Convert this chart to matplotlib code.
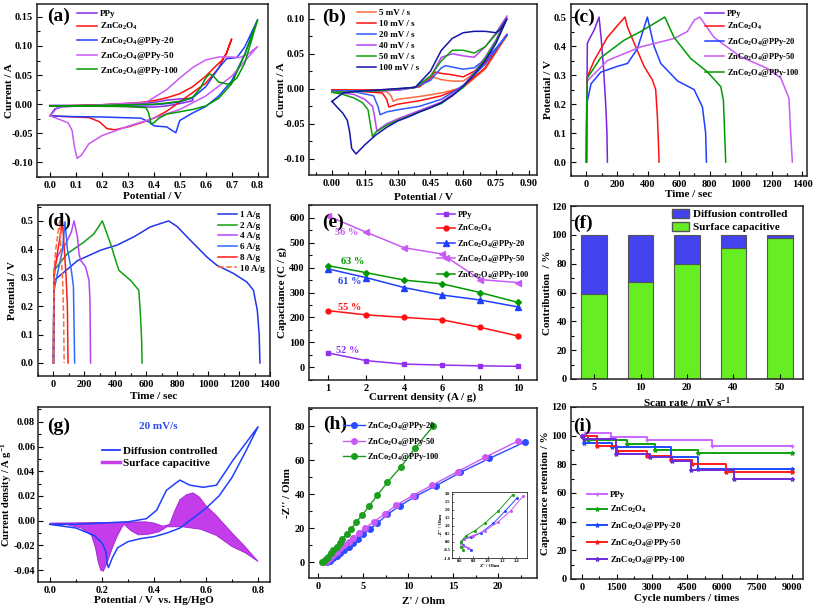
import matplotlib
matplotlib.use("Agg")
import matplotlib.pyplot as plt
from matplotlib.ticker import AutoMinorLocator, FormatStrFormatter
from matplotlib.patches import Patch

plt.rcParams['font.family'] = 'serif'
plt.rcParams['font.serif'] = ['Liberation Serif', 'DejaVu Serif']
plt.rcParams['font.weight'] = 'bold'
plt.rcParams['axes.labelweight'] = 'bold'
plt.rcParams['mathtext.fontset'] = 'custom'
plt.rcParams['mathtext.rm'] = 'Liberation Serif:bold'
plt.rcParams['mathtext.it'] = 'Liberation Serif:bold'
plt.rcParams['mathtext.bf'] = 'Liberation Serif:bold'
plt.rcParams['mathtext.default'] = 'rm'

ZCO = 'ZnCo$_2$O$_4$'
names = ['PPy', ZCO, ZCO + '@PPy-20', ZCO + '@PPy-50', ZCO + '@PPy-100']

# ---------------- (a) CV of the five electrodes ----------------
a_ppy_v = [0.0, 0.1, 0.2, 0.3, 0.35, 0.4, 0.45, 0.5, 0.55, 0.55, 0.5, 0.45, 0.4, 0.3, 0.2, 0.1, 0.0]
a_ppy_i = [-0.002, -0.002, -0.001, 0.0, 0.001, 0.003, 0.007, 0.009, 0.010,
           0.006, 0.001, -0.003, -0.005, -0.004, -0.003, -0.003, -0.003]
a_zco_v = [0.0, 0.02, 0.05, 0.2, 0.35, 0.4, 0.45, 0.5, 0.55, 0.6, 0.64, 0.66, 0.68, 0.70,
           0.68, 0.65, 0.6, 0.55, 0.5, 0.45, 0.4, 0.35, 0.3, 0.25, 0.22, 0.19, 0.15, 0.05, 0.0]
a_zco_i = [-0.02, -0.008, -0.003, -0.001, 0.003, 0.006, 0.011, 0.018, 0.03, 0.048, 0.066, 0.074, 0.087, 0.112,
           0.088, 0.062, 0.036, 0.02, 0.004, -0.012, -0.024, -0.032, -0.039, -0.044, -0.042, -0.03, -0.023, -0.021, -0.02]
a_p20_v = [0.0, 0.02, 0.05, 0.2, 0.4, 0.45, 0.5, 0.55, 0.6, 0.65, 0.68, 0.72, 0.75, 0.8,
           0.75, 0.7, 0.65, 0.6, 0.55, 0.5, 0.485, 0.47, 0.45, 0.42, 0.4, 0.38, 0.35, 0.2, 0.05, 0.0]
a_p20_i = [-0.02, -0.008, -0.004, -0.002, -0.001, 0.001, 0.004, 0.011, 0.03, 0.062, 0.078, 0.08, 0.098, 0.145,
           0.085, 0.04, 0.014, -0.004, -0.015, -0.028, -0.049, -0.045, -0.039, -0.038, -0.037, -0.03, -0.024, -0.022, -0.021, -0.02]
a_p50_v = [0.0, 0.03, 0.2, 0.37, 0.45, 0.5, 0.55, 0.6, 0.65, 0.7, 0.73, 0.76, 0.8,
           0.7, 0.6, 0.5, 0.4, 0.3, 0.2, 0.15, 0.12, 0.105, 0.095, 0.085, 0.07, 0.03, 0.0]
a_p50_i = [-0.02, -0.005, -0.001, 0.003, 0.025, 0.045, 0.063, 0.076, 0.081, 0.081, 0.08, 0.085, 0.099,
           0.048, 0.014, -0.009, -0.024, -0.038, -0.054, -0.068, -0.088, -0.093, -0.075, -0.045, -0.032, -0.025, -0.02]
a_p100_v = [0.0, 0.2, 0.4, 0.45, 0.5, 0.55, 0.58, 0.6, 0.615, 0.63, 0.65, 0.69, 0.72, 0.75, 0.8,
            0.75, 0.7, 0.65, 0.6, 0.55, 0.5, 0.45, 0.42, 0.40, 0.39, 0.38, 0.37, 0.3, 0.0]
a_p100_i = [-0.003, -0.002, 0.0, 0.002, 0.005, 0.012, 0.028, 0.045, 0.052, 0.048, 0.038, 0.034, 0.045, 0.07, 0.145,
            0.085, 0.035, 0.01, -0.003, -0.009, -0.013, -0.017, -0.024, -0.032, -0.034, -0.015, -0.006, -0.004, -0.003]

# ---------------- (b) CV at different scan rates ----------------
b_labels = ['5 mV / s', '10 mV / s', '20 mV / s', '40 mV / s', '50 mV / s', '100 mV / s']
b5_v = [0.0, 0.1, 0.3, 0.4, 0.42, 0.44, 0.45, 0.5, 0.55, 0.6, 0.65, 0.7, 0.75, 0.8,
        0.7, 0.6, 0.5, 0.4, 0.3, 0.28, 0.27, 0.25, 0.1, 0.0]
b5_i = [-0.002, -0.002, -0.001, 0.003, 0.01, 0.016, 0.018, 0.013, 0.011, 0.011, 0.022, 0.036, 0.055, 0.076,
        0.028, 0.002, -0.006, -0.011, -0.015, -0.018, -0.01, -0.004, -0.002, -0.002]
b10_v = [0.0, 0.1, 0.3, 0.4, 0.45, 0.47, 0.5, 0.55, 0.6, 0.65, 0.7, 0.75, 0.8,
         0.7, 0.6, 0.5, 0.4, 0.3, 0.26, 0.25, 0.23, 0.1, 0.0]
b10_i = [-0.002, -0.002, -0.001, 0.003, 0.015, 0.024, 0.022, 0.02, 0.017, 0.025, 0.038, 0.056, 0.078,
         0.03, 0.003, -0.01, -0.017, -0.022, -0.026, -0.015, -0.006, -0.003, -0.002]
b20_v = [0.0, 0.1, 0.3, 0.38, 0.45, 0.5, 0.52, 0.55, 0.6, 0.65, 0.7, 0.75, 0.8,
         0.7, 0.6, 0.5, 0.4, 0.3, 0.25, 0.22, 0.21, 0.19, 0.1, 0.0]
b20_i = [-0.003, -0.003, -0.002, 0.002, 0.012, 0.03, 0.033, 0.031, 0.028, 0.03, 0.042, 0.058, 0.077,
         0.035, 0.005, -0.015, -0.025, -0.03, -0.033, -0.037, -0.025, -0.01, -0.004, -0.003]
b40_v = [0.0, 0.1, 0.3, 0.38, 0.45, 0.5, 0.55, 0.6, 0.65, 0.7, 0.75, 0.8,
         0.75, 0.7, 0.65, 0.6, 0.5, 0.4, 0.3, 0.25, 0.205, 0.195, 0.185, 0.15, 0.1, 0.0]
b40_i = [-0.004, -0.004, -0.002, 0.002, 0.017, 0.045, 0.05, 0.047, 0.045, 0.06, 0.08, 0.104,
         0.07, 0.045, 0.024, 0.004, -0.019, -0.031, -0.043, -0.05, -0.06, -0.04, -0.025, -0.015, -0.008, -0.004]
b50_v = [0.0, 0.2, 0.38, 0.45, 0.5, 0.55, 0.6, 0.65, 0.7, 0.75, 0.8,
         0.75, 0.7, 0.65, 0.6, 0.5, 0.4, 0.3, 0.25, 0.2, 0.185, 0.175, 0.165, 0.14, 0.1, 0.05, 0.0]
b50_i = [-0.005, -0.003, 0.002, 0.018, 0.04, 0.055, 0.055, 0.051, 0.06, 0.078, 0.1,
         0.068, 0.043, 0.022, 0.002, -0.021, -0.033, -0.045, -0.052, -0.062, -0.068, -0.05, -0.03, -0.02, -0.013, -0.008, -0.005]
b100_v = [0.0, 0.05, 0.1, 0.38, 0.45, 0.5, 0.55, 0.6, 0.65, 0.7, 0.75, 0.77, 0.8,
          0.75, 0.7, 0.65, 0.6, 0.55, 0.5, 0.45, 0.4, 0.35, 0.3, 0.25, 0.2, 0.15, 0.11, 0.09, 0.08, 0.07, 0.05, 0.02, 0.0]
b100_i = [-0.018, -0.006, -0.004, 0.002, 0.025, 0.055, 0.072, 0.08, 0.082, 0.082, 0.08, 0.085, 0.1,
          0.065, 0.04, 0.02, 0.004, -0.01, -0.02, -0.027, -0.033, -0.04, -0.046, -0.055, -0.066, -0.08, -0.093, -0.085,
          -0.06, -0.045, -0.035, -0.025, -0.018]

# ---------------- (c) GCD of the five electrodes ----------------
c_ppy_t = [0, 3, 6, 20, 50, 82, 95, 110, 125, 133, 136]
c_ppy_v = [0.0, 0.2, 0.41, 0.425, 0.455, 0.5, 0.43, 0.33, 0.2, 0.1, 0.0]
c_zco_t = [0, 2, 6, 50, 136, 200, 250, 266, 320, 374, 428, 449, 460, 466, 471]
c_zco_v = [0.0, 0.2, 0.294, 0.35, 0.43, 0.47, 0.5, 0.466, 0.397, 0.33, 0.283, 0.25, 0.157, 0.08, 0.0]
c_p20_t = [0, 2, 6, 30, 93, 200, 266, 330, 395, 438, 482, 590, 698, 752, 773, 778]
c_p20_v = [0.0, 0.15, 0.21, 0.27, 0.31, 0.33, 0.34, 0.39, 0.5, 0.4, 0.34, 0.28, 0.25, 0.19, 0.1, 0.0]
c_p50_t = [0, 2, 6, 136, 352, 568, 654, 700, 735, 827, 1000, 1173, 1260, 1313, 1324, 1335]
c_p50_v = [0.0, 0.2, 0.28, 0.35, 0.397, 0.426, 0.45, 0.49, 0.5, 0.43, 0.363, 0.323, 0.29, 0.22, 0.1, 0.0]
c_p100_t = [0, 2, 6, 93, 244, 352, 508, 568, 676, 784, 871, 888, 896, 903]
c_p100_v = [0.0, 0.2, 0.29, 0.36, 0.42, 0.45, 0.5, 0.43, 0.357, 0.311, 0.26, 0.214, 0.1, 0.0]

# ---------------- (d) GCD of ZnCo2O4@PPy-50 ----------------
d_labels = ['1 A/g', '2 A/g', '4 A/g', '6 A/g', '8 A/g', '10 A/g']
d1_t = [0, 2, 4, 155, 305, 412, 520, 627, 745, 800, 863, 992, 1056, 1164, 1250, 1293, 1318, 1330, 1335]
d1_v = [0.0, 0.2, 0.29, 0.36, 0.397, 0.415, 0.444, 0.479, 0.5, 0.48, 0.444, 0.373, 0.344, 0.315, 0.285, 0.256, 0.185, 0.1, 0.0]
d2_t = [0, 2, 4, 90, 198, 262, 316, 369, 402, 423, 498, 552, 563, 570, 573]
d2_v = [0.0, 0.2, 0.326, 0.385, 0.426, 0.455, 0.5, 0.42, 0.361, 0.326, 0.291, 0.256, 0.162, 0.08, 0.0]
d4_t = [0, 2, 4, 30, 80, 115, 133, 155, 165, 176, 208, 230, 236, 240]
d4_v = [0.0, 0.25, 0.33, 0.38, 0.42, 0.46, 0.5, 0.444, 0.385, 0.361, 0.338, 0.29, 0.22, 0.0]
d6_t = [0, 2, 4, 26, 58, 75, 90, 112, 129, 137]
d6_v = [0.0, 0.2, 0.256, 0.315, 0.397, 0.497, 0.4, 0.34, 0.27, 0.0]
d8_t = [0, 2, 4, 20, 45, 58, 70, 82, 90, 94]
d8_v = [0.0, 0.2, 0.3, 0.37, 0.45, 0.5, 0.4, 0.3, 0.2, 0.0]
d10_t = [0, 2, 4, 15, 30, 40, 50, 60, 66, 69]
d10_v = [0.0, 0.2, 0.33, 0.4, 0.46, 0.5, 0.38, 0.28, 0.15, 0.0]

# ---------------- (e) rate capability ----------------
e_density = ['1', '2', '4', '6', '8', '10']
e_ppy = [57, 26, 12, 8, 5, 3]
e_zco = [227, 210, 200, 190, 160, 125]
e_p20 = [395, 360, 320, 290, 270, 242]
e_p50 = [608, 543, 480, 455, 352, 340]
e_p100 = [408, 380, 350, 335, 300, 260]
e_retention = ['56 %', '63 %', '61 %', '55 %', '52 %']

# ---------------- (f) contribution ----------------
f_rates = ['5', '10', '20', '40', '50']
f_surface = [59, 67, 80, 91, 98]
f_diffusion = [41, 33, 20, 9, 2]

# ---------------- (g) separated CV at 20 mV/s ----------------
g_cv_v = [0.0, 0.1, 0.2, 0.3, 0.371, 0.41, 0.448, 0.499, 0.538, 0.589, 0.64, 0.704, 0.8,
          0.75, 0.7, 0.65, 0.6, 0.55, 0.5, 0.45, 0.4, 0.35, 0.3, 0.26, 0.24, 0.225, 0.22, 0.215, 0.2, 0.17, 0.1, 0.0]
g_cv_i = [-0.003, -0.003, -0.002, -0.001, 0.0016, 0.0084, 0.0246, 0.0328, 0.0287, 0.027, 0.0287, 0.049, 0.076,
          0.055, 0.035, 0.02, 0.01, 0.002, -0.006, -0.01, -0.013, -0.0145, -0.017, -0.022, -0.03, -0.038,
          -0.035, -0.025, -0.018, -0.012, -0.006, -0.003]
g_cap_v = [0.0, 0.1, 0.2, 0.3, 0.37, 0.4, 0.435, 0.46, 0.48, 0.5, 0.525, 0.55, 0.575, 0.6, 0.64, 0.7, 0.75, 0.8,
           0.75, 0.7, 0.64, 0.58, 0.51, 0.45, 0.42, 0.38, 0.34, 0.31, 0.285, 0.275, 0.26, 0.24, 0.22, 0.205,
           0.195, 0.185, 0.175, 0.16, 0.12, 0.06, 0.0]
g_cap_i = [-0.002, -0.0018, -0.0015, -0.0012, -0.001, -0.002, -0.0045, -0.003, 0.008, 0.017, 0.021, 0.0225, 0.019,
           0.012, 0.004, -0.01, -0.021, -0.033,
           -0.026, -0.021, -0.012, -0.007, -0.005, -0.005, -0.009, -0.011, -0.0115, -0.008, -0.003, -0.006,
           -0.012, -0.022, -0.034, -0.041, -0.04, -0.033, -0.022, -0.012, -0.006, -0.003, -0.002]

# ---------------- (h) Nyquist ----------------
h_p20_re = [1.0, 1.3, 1.7, 2.1, 2.4, 2.9, 3.4, 3.9, 4.4, 5.0, 5.8, 6.6, 7.7, 9.1, 10.8, 13.1, 15.8, 19.0, 22.95]
h_p20_im = [-0.2, 0.8, 2.2, 3.7, 5.1, 7.1, 9.0, 11.0, 13.5, 16.3, 19.4, 22.9, 28.0, 33.1, 38.6, 44.9, 52.7, 60.9, 70.6]
h_p50_re = [0.67, 1.0, 1.3, 1.7, 2.1, 2.4, 2.9, 3.4, 3.9, 4.5, 5.2, 6.2, 7.4, 8.7, 10.5, 12.7, 15.5, 18.5, 22.2]
h_p50_im = [-0.2, 0.6, 2.2, 4.1, 6.1, 8.1, 10.0, 11.9, 14.3, 16.9, 19.8, 23.7, 28.2, 33.5, 39.0, 45.3, 53.2, 61.5, 71.2]
h_p100_re = [0.48, 0.67, 0.9, 1.15, 1.44, 1.7, 2.1, 2.4, 2.7, 3.2, 3.7, 4.2, 4.9, 5.7, 6.6, 7.7, 9.2, 10.8, 12.8]
h_p100_im = [0.2, 0.6, 1.8, 3.1, 5.1, 7.1, 9.0, 11.0, 13.5, 16.5, 19.4, 23.3, 27.6, 33.1, 39.4, 46.9, 56.0, 67.2, 80.2]
hi_p20_re = [0.77, 0.65, 0.62, 0.67, 0.77, 0.91, 1.08, 1.247, 1.414]
hi_p20_im = [-0.48, -0.19, 0.0, 0.19, 0.29, 0.58, 1.16, 1.93, 2.74]
hi_p50_re = [0.72, 0.65, 0.63, 0.67, 0.79, 0.96, 1.15, 1.32, 1.5]
hi_p50_im = [-0.39, -0.23, 0.0, 0.19, 0.39, 0.68, 1.26, 1.93, 2.86]
hi_p100_re = [0.66, 0.624, 0.624, 0.696, 0.815, 0.96, 1.15, 1.352]
hi_p100_im = [-0.48, -0.29, 0.0, 0.39, 0.68, 1.16, 1.93, 2.94]

# ---------------- (i) cycling ----------------
i_ppy_n = [0, 150, 1250, 2800, 5550, 9000]
i_ppy_r = [100, 102, 99, 97, 93, 93]
i_zco_n = [0, 250, 1950, 3130, 4950, 9000]
i_zco_r = [100, 97, 94, 90, 88, 88]
i_p20_n = [0, 100, 1300, 3800, 4950, 9000]
i_p20_r = [100, 95, 92, 85, 77, 77]
i_p50_n = [0, 650, 1500, 2800, 3800, 4700, 6150, 9000]
i_p50_r = [100, 93, 89, 85.5, 83, 80, 75, 75]
i_p100_n = [0, 100, 1450, 2900, 3850, 4650, 6500, 9000]
i_p100_r = [100, 98, 87, 85, 82, 76, 70, 70]

W, H = 813, 610
fig = plt.figure(figsize=(8.13, 6.10), dpi=100)


def add_ax(box):
    l, t, r, b = box
    return fig.add_axes([l / W, 1 - b / H, (r - l) / W, (b - t) / H])


def finish(ax, box, tag, tx, ty, xlabel, ylabel, ylab_x, xlab_y, xminor=True, lfs=8):
    l, t, r, b = box
    ax.set_xlabel(xlabel, fontsize=8)
    ax.set_ylabel(ylabel, fontsize=lfs)
    # label centres, in pixels
    ax.yaxis.set_label_coords((ylab_x + 5 - l) / (r - l), 0.5)
    ax.xaxis.set_label_coords(0.5, 1 - (xlab_y - 5 - t) / (b - t))
    ax.tick_params(which='both', direction='in', labelsize=7.5, width=0.8, pad=3)
    ax.tick_params(which='major', length=3.5)
    ax.tick_params(which='minor', length=2)
    if xminor:
        ax.xaxis.set_minor_locator(AutoMinorLocator(2))
    ax.yaxis.set_minor_locator(AutoMinorLocator(2))
    for s in ax.spines.values():
        s.set_linewidth(1.1)
        s.set_color('#222222')
    ax.text(tx, ty, tag, transform=ax.transAxes, fontsize=14, fontweight='bold', va='center', ha='left')


def leg(ax, x, y, fs=7, sp=0.3, hpx=19, **kw):
    return ax.legend(loc='upper left', bbox_to_anchor=(x, y), frameon=False, fontsize=fs,
                     borderpad=0, borderaxespad=0, handletextpad=0.3, labelspacing=sp,
                     handlelength=hpx / 1.389 / fs, **kw)


c_ppy = '#8A2BE2'
c_red = '#FF1010'
c_blue = '#1F3FFF'
c_p50 = '#C85AF5'
c_green = '#009A00'

# (a)
box = (37, 4, 268, 177)
ax = add_ax(box)
ax.plot(a_ppy_v, a_ppy_i, color=c_ppy, lw=1.1, label=names[0])
ax.plot(a_zco_v, a_zco_i, color=c_red, lw=1.1, label=names[1])
ax.plot(a_p20_v, a_p20_i, color=c_blue, lw=1.1, label=names[2])
ax.plot(a_p50_v, a_p50_i, color=c_p50, lw=1.1, label=names[3])
ax.plot(a_p100_v, a_p100_i, color=c_green, lw=1.1, label=names[4])
ax.set_xlim(-0.05, 0.84)
ax.set_ylim(-0.125, 0.172)
ax.set_xticks([0.0, 0.1, 0.2, 0.3, 0.4, 0.5, 0.6, 0.7, 0.8])
ax.set_yticks([-0.10, -0.05, 0.0, 0.05, 0.10, 0.15])
ax.xaxis.set_major_formatter(FormatStrFormatter('%.1f'))
ax.yaxis.set_major_formatter(FormatStrFormatter('%.2f'))
finish(ax, box, '(a)', 0.043, 0.928, 'Potential / V', 'Current / A', 9, 197, xminor=False)
leg(ax, 0.173, 0.965, fs=6.6, sp=0.3, hpx=20)

# (b)
box = (309, 4, 537, 175)
ax = add_ax(box)
b_cols = ['#FF6A3D', '#FF1010', '#2E5BFF', '#B545F0', '#10A010', '#1414A8']
for v, i, c, lab in zip([b5_v, b10_v, b20_v, b40_v, b50_v, b100_v],
                        [b5_i, b10_i, b20_i, b40_i, b50_i, b100_i], b_cols, b_labels):
    ax.plot(v, i, color=c, lw=1.1, label=lab)
ax.set_xlim(-0.105, 0.937)
ax.set_ylim(-0.123, 0.121)
ax.set_xticks([0.0, 0.15, 0.30, 0.45, 0.60, 0.75, 0.90])
ax.set_yticks([-0.10, -0.05, 0.0, 0.05, 0.10])
ax.xaxis.set_major_formatter(FormatStrFormatter('%.2f'))
ax.yaxis.set_major_formatter(FormatStrFormatter('%.2f'))
finish(ax, box, '(b)', 0.057, 0.924, 'Potential / V', 'Current / A', 281, 198)
leg(ax, 0.21, 0.97, fs=6.5, sp=0.28, hpx=19)

# (c)
box = (571, 4, 807, 176)
ax = add_ax(box)
ax.plot(c_ppy_t, c_ppy_v, color='#7A22E0', lw=1.1, label=names[0])
ax.plot(c_zco_t, c_zco_v, color=c_red, lw=1.1, label=names[1])
ax.plot(c_p20_t, c_p20_v, color=c_blue, lw=1.1, label=names[2])
ax.plot(c_p50_t, c_p50_v, color=c_p50, lw=1.1, label=names[3])
ax.plot(c_p100_t, c_p100_v, color=c_green, lw=1.1, label=names[4])
ax.set_xlim(-100, 1430)
ax.set_ylim(-0.048, 0.545)
ax.set_xticks(range(0, 1401, 200))
ax.set_yticks([0.0, 0.1, 0.2, 0.3, 0.4, 0.5])
ax.yaxis.set_major_formatter(FormatStrFormatter('%.1f'))
finish(ax, box, '(c)', 0.008, 0.92, 'Time / sec', 'Potential / V', 548, 195)
leg(ax, 0.568, 0.967, fs=6.0, sp=0.42, hpx=19)

# (d)
box = (38, 205, 270, 376)
ax = add_ax(box)
d_cols = ['#2233EE', '#10A010', '#B545F0', '#2E6BFF', '#FF1A1A', '#FF6A3D']
for t, v, c, lab in zip([d1_t, d2_t, d4_t, d6_t, d8_t, d10_t],
                        [d1_v, d2_v, d4_v, d6_v, d8_v, d10_v], d_cols, d_labels):
    ax.plot(t, v, color=c, lw=1.1, ls='--' if lab == '10 A/g' else '-', label=lab)
ax.set_xlim(-100, 1400)
ax.set_ylim(-0.046, 0.556)
ax.set_xticks(range(0, 1401, 200))
ax.set_yticks([0.0, 0.1, 0.2, 0.3, 0.4, 0.5])
ax.yaxis.set_major_formatter(FormatStrFormatter('%.1f'))
finish(ax, box, '(d)', 0.039, 0.904, 'Time / sec', 'Potential / V', 12, 397)
leg(ax, 0.776, 0.967, fs=6.6, sp=0.25, hpx=19)

# (e)
box = (309, 205, 537, 380)
ax = add_ax(box)
xs = range(len(e_density))
ax.plot(xs, e_ppy, color='#9330EE', marker='s', ms=3.5, lw=1.1, label=names[0])
ax.plot(xs, e_zco, color=c_red, marker='o', ms=3.5, lw=1.1, label=names[1])
ax.plot(xs, e_p20, color=c_blue, marker='^', ms=4, lw=1.1, label=names[2])
ax.plot(xs, e_p50, color=c_p50, marker='<', ms=4, lw=1.1, label=names[3])
ax.plot(xs, e_p100, color=c_green, marker='D', ms=3, lw=1.1, label=names[4])
ax.set_xticks(list(xs))
ax.set_xticklabels(e_density)
ax.set_xlim(-0.5, 5.5)
ax.set_ylim(-52, 652)
ax.set_yticks(range(0, 601, 100))
finish(ax, box, '(e)', 0.057, 0.903, 'Current density (A / g)', 'Capacitance (C / g)', 282, 397, xminor=False)
ann_pos = [(0.5, 540), (0.65, 426), (0.58, 345), (0.58, 240), (0.52, 67)]
ann_col = [c_p50, c_green, c_blue, c_red, '#9330EE']
for txt, (px, py), col in zip(e_retention, ann_pos, ann_col):
    ax.text(px, py, txt, color=col, fontsize=7.5, fontweight='bold', ha='center', va='center')
leg(ax, 0.561, 0.966, fs=6.0, sp=0.45, hpx=18)

# (f)
box = (571, 206, 803, 379)
ax = add_ax(box)
fx = range(len(f_rates))
ax.bar(fx, f_surface, width=0.55, color='#66EE22', edgecolor='#555555', lw=0.8, label='Surface capacitive')
ax.bar(fx, f_diffusion, width=0.55, bottom=f_surface, color='#4242EE', edgecolor='#555555', lw=0.8,
       label='Diffusion controlled')
ax.set_xticks(list(fx))
ax.set_xticklabels(f_rates)
ax.set_xlim(-0.5, 4.5)
ax.set_ylim(0, 120)
ax.set_yticks(range(0, 121, 20))
finish(ax, box, '(f)', 0.009, 0.902, 'Scan rate / mV s$^{-1}$', 'Contribution  / %', 547, 400, xminor=False)
hnd = [Patch(facecolor='#4242EE', edgecolor='#555555'), Patch(facecolor='#66EE22', edgecolor='#555555')]
ax.legend(hnd, ['Diffusion controlled', 'Surface capacitive'], loc='upper left', bbox_to_anchor=(0.435, 0.985),
          frameon=False, fontsize=8, borderpad=0, borderaxespad=0, handletextpad=0.4, labelspacing=0.25,
          handlelength=1.5, handleheight=0.9)

# (g)
box = (38, 407, 270, 582)
ax = add_ax(box)
ax.fill(g_cap_v, g_cap_i, facecolor='#C33DEB', edgecolor='#A020D0', lw=0.6, label='Surface capacitive')
ax.plot(g_cv_v, g_cv_i, color=c_blue, lw=1.1, label='Diffusion controlled')
ax.set_xlim(-0.046, 0.846)
ax.set_ylim(-0.0497, 0.092)
ax.set_xticks([0.0, 0.2, 0.4, 0.6, 0.8])
ax.set_yticks([-0.04, -0.02, 0.0, 0.02, 0.04, 0.06, 0.08])
ax.xaxis.set_major_formatter(FormatStrFormatter('%.1f'))
ax.yaxis.set_major_formatter(FormatStrFormatter('%.2f'))
finish(ax, box, '(g)', 0.039, 0.887, 'Potential / V  vs. Hg/HgO', 'Current density / A g$^{-1}$', 9, 601, lfs=7.6)
ax.tick_params(axis='y', which='both', pad=2)
ax.text(0.416, 0.076, '20 mV/s', color='#2E4BEE', fontsize=8, fontweight='bold', ha='center', va='center')
gh = [plt.Line2D([], [], color=c_blue, lw=1.3), plt.Line2D([], [], color='#C33DEB', lw=2.5)]
ax.legend(gh, ['Diffusion controlled', 'Surface capacitive'], loc='upper left', bbox_to_anchor=(0.276, 0.775),
          frameon=False, fontsize=8, borderpad=0, borderaxespad=0, handletextpad=0.3, labelspacing=0.2,
          handlelength=18 / 1.389 / 8)

# (h)
box = (309, 408, 537, 578)
ax = add_ax(box)
ax.plot(h_p20_re, h_p20_im, color='#2A4BFF', marker='o', ms=4, lw=1.0, label=names[2])
ax.plot(h_p50_re, h_p50_im, color=c_p50, marker='o', ms=4, lw=1.0, label=names[3])
ax.plot(h_p100_re, h_p100_im, color='#1E9E1E', marker='o', ms=4, lw=1.0, label=names[4])
ax.set_xlim(-1, 24.3)
ax.set_ylim(-9.4, 90.6)
ax.set_xticks([0, 5, 10, 15, 20])
ax.set_yticks([0, 20, 40, 60, 80])
finish(ax, box, '(h)', 0.061, 0.906, "Z' / Ohm", "-Z'' / Ohm", 287, 602)
leg(ax, 0.149, 0.93, fs=6.0, sp=0.45, hpx=22)
ins = add_ax((452, 492, 527, 558))
ins.plot(hi_p20_re, hi_p20_im, color='#2A4BFF', marker='o', ms=1.2, lw=0.7)
ins.plot(hi_p50_re, hi_p50_im, color=c_p50, marker='o', ms=1.2, lw=0.7)
ins.plot(hi_p100_re, hi_p100_im, color='#1E9E1E', marker='o', ms=1.2, lw=0.7)
ins.set_xlim(0.5, 1.55)
ins.set_ylim(-1.0, 3.1)
ins.set_xticks([0.6, 0.8, 1.0, 1.2, 1.4])
ins.set_yticks([-1.0, -0.5, 0.0, 0.5, 1.0, 1.5, 2.0, 2.5, 3.0])
ins.xaxis.set_major_formatter(FormatStrFormatter('%.1f'))
ins.yaxis.set_major_formatter(FormatStrFormatter('%.1f'))
ins.tick_params(labelsize=3.2, length=1.2, width=0.4, pad=1, direction='in')
ins.set_xlabel("Z' / Ohm", fontsize=3.5, labelpad=0.5)
ins.set_ylabel("-Z'' / Ohm", fontsize=3.5, labelpad=0.5)
for s in ins.spines.values():
    s.set_linewidth(0.5)

# (i)
box = (571, 407, 803, 579)
ax = add_ax(box)
i_cols = ['#CC66FF', '#10A010', '#1E4BFF', '#FF1A1A', '#6A2BD9']
i_mk = ['+', '*', '*', '*', '*']
for n, r, c, m, lab in zip([i_ppy_n, i_zco_n, i_p20_n, i_p50_n, i_p100_n],
                           [i_ppy_r, i_zco_r, i_p20_r, i_p50_r, i_p100_r], i_cols, i_mk, names):
    ax.plot(n, r, color=c, lw=1.4, drawstyle='steps-post', marker=m, ms=3, label=lab)
ax.set_xlim(-470, 9470)
ax.set_ylim(0, 120)
ax.set_xticks(range(0, 9001, 1500))
ax.set_yticks(range(0, 121, 20))
finish(ax, box, '(i)', 0.009, 0.885, 'Cycle numbers / times', 'Capacitance retention / %', 545, 599)
leg(ax, 0.069, 0.51, fs=6.3, sp=0.55, hpx=20)

fig.savefig('out.png', dpi=100)
